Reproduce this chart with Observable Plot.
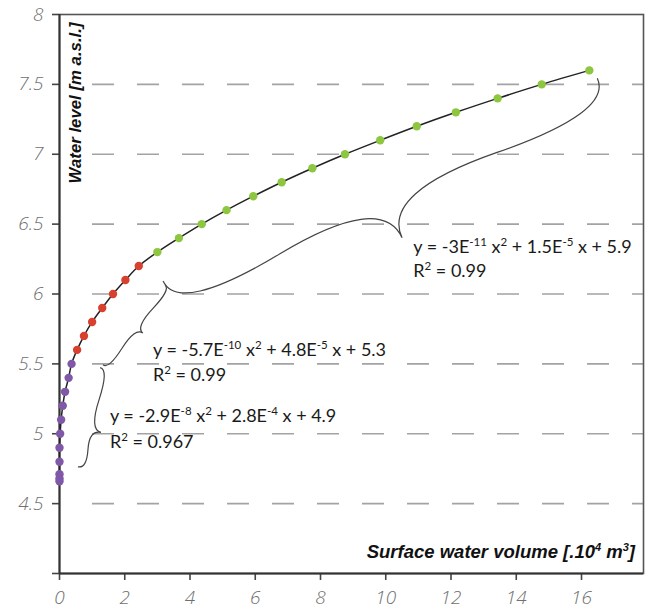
<!DOCTYPE html>
<html><head><meta charset="utf-8">
<script src="https://cdn.jsdelivr.net/npm/d3@7"></script>
<script src="https://cdn.jsdelivr.net/npm/@observablehq/plot@0.6"></script>
<style>body{margin:0;background:#fff} svg{display:block}</style>
</head><body><div id="chart"></div>
<script>
// ---- data ----
const seriesNames = ["lower", "middle", "upper"];
const purpleX = [0, 0, 0, 0, 0, 0.02, 0.05, 0.1, 0.17, 0.28, 0.37];
const purpleY = [4.66, 4.68, 4.71, 4.8, 4.9, 5.0, 5.1, 5.2, 5.3, 5.4, 5.5];
const redX = [0.54, 0.75, 1.0, 1.31, 1.64, 2.02, 2.43];
const redY = [5.6, 5.7, 5.8, 5.9, 6.0, 6.1, 6.2];
const greenX = [3.0, 3.66, 4.36, 5.12, 5.94, 6.81, 7.75, 8.75, 9.83, 10.95, 12.15, 13.43, 14.78, 16.24];
const greenY = [6.3, 6.4, 6.5, 6.6, 6.7, 6.8, 6.9, 7.0, 7.1, 7.2, 7.3, 7.4, 7.5, 7.6];
const xTicks = [0, 2, 4, 6, 8, 10, 12, 14, 16];
const yTicks = [4, 4.5, 5, 5.5, 6, 6.5, 7, 7.5, 8];
const gridY = [4.5, 5, 5.5, 6, 6.5, 7, 7.5];
const eqLines = ["y = -3E^{-11} x^{2} + 1.5E^{-5} x + 5.9", "y = -5.7E^{-10} x^{2} + 4.8E^{-5} x + 5.3", "y = -2.9E^{-8} x^{2} + 2.8E^{-4} x + 4.9"];
const r2Lines = ["R^{2} = 0.99", "R^{2} = 0.99", "R^{2} = 0.967"];
const eqX = [10.86, 2.88, 1.56];
const eqY = [6.29, 5.55, 5.08];
const braceX1 = [3.19, 1.35, 0.58];
const braceY1 = [6.09, 5.49, 4.76];
const braceX2 = [16.5, 3.25, 1.26];
const braceY2 = [7.54, 6.06, 5.47];
const xTitle = "Surface water volume [.10^{4} m^{3}]";
const yTitle = "Water level [m a.s.l.]";

// ---- build table ----
const points = [
  ...purpleX.map((x, i) => ({x, y: purpleY[i], series: seriesNames[0]})),
  ...redX.map((x, i) => ({x, y: redY[i], series: seriesNames[1]})),
  ...greenX.map((x, i) => ({x, y: greenY[i], series: seriesNames[2]}))
];

const tickFont = {fontSize: 19, fontStyle: "italic", fontWeight: 300, fontFamily: "'Open Sans', sans-serif"};

const plot = Plot.plot({
  width: 646, height: 609,
  marginTop: 14, marginRight: 3, marginBottom: 36, marginLeft: 59,
  x: {domain: [0, 17.9], label: null},
  y: {domain: [4, 8], label: null},
  color: {domain: seriesNames, range: ["#7f58a8", "#d8412f", "#8dc63f"]},
  style: {background: "#fff", fontFamily: "'Open Sans', sans-serif", overflow: "visible"},
  marks: [
    Plot.ruleY(gridY, {stroke: "#a3a3a3", strokeWidth: 1.6, strokeDasharray: "22,23", insetLeft: 33}),
    Plot.frame({stroke: "#555", strokeWidth: 1.6}),
    Plot.axisX({ticks: xTicks, tickSize: 7, tickPadding: 10, stroke: "#444", strokeWidth: 1.6, fill: "#707070", label: null, tickFormat: d => String(d), ...tickFont}),
    Plot.axisY({ticks: yTicks, tickSize: 7, tickPadding: 9, stroke: "#444", strokeWidth: 1.6, fill: "#707070", label: null, tickFormat: d => d === 4 ? "" : String(d), ...tickFont}),
    Plot.ruleX([0], {stroke: "#333", strokeWidth: 2}),
    Plot.ruleY([4], {stroke: "#333", strokeWidth: 2}),
    Plot.line(points, {x: "x", y: "y", stroke: "#222", strokeWidth: 1.5, curve: "catmull-rom"}),
    Plot.dot(points, {x: "x", y: "y", fill: "series", r: 4.2}),
    Plot.text([yTitle], {frameAnchor: "top-left", rotate: -90, textAnchor: "end", lineAnchor: "bottom", dx: 21, dy: 8,
      fontSize: 16.8, fontWeight: "bold", fontStyle: "italic", fontFamily: "'Liberation Sans', Arial, sans-serif", fill: "#111"})
  ]
});
document.getElementById("chart").appendChild(plot);

const svg = d3.select(plot);
svg.selectAll('g[aria-label="x-axis tick label"], g[aria-label="y-axis tick label"]')
  .attr("font-size", tickFont.fontSize).attr("font-style", "italic").attr("font-weight", 300);

// ---- annotations through the plot's scales ----
const X = plot.scale("x"), Y = plot.scale("y");
const sx = v => X.apply(v), sy = v => Y.apply(v);
const g = svg.append("g").attr("text-anchor", "start");

function richText(sel, str, x, y, size, supSize, rise, attrs) {
  const t = sel.append("text").attr("x", x).attr("y", y).attr("font-size", size).attr("text-anchor", "start");
  for (const [k, v] of Object.entries(attrs)) t.attr(k, v);
  let shifted = false;
  str.split(/(\^\{[^}]*\})/).forEach(part => {
    if (!part) return;
    if (part.startsWith("^{")) {
      t.append("tspan").attr("dy", -rise).attr("font-size", supSize).text(part.slice(2, -1));
      shifted = true;
    } else {
      const ts = t.append("tspan").text(part);
      if (shifted) { ts.attr("dy", rise); shifted = false; }
    }
  });
  return t;
}

function bracePath(ax, ay, bx, by, w, t, q) {
  const dx = bx - ax, dy = by - ay, L = Math.hypot(dx, dy);
  const ux = dx / L, uy = dy / L, nx = -uy, ny = ux;
  const P = (s, o) => [ax + ux * s + nx * o, ay + uy * s + ny * o].join(" ");
  const tip = P(L * t, w);
  return `M${P(0, 0)} Q${P(0, q * w)} ${P(L * t / 2, (1 - q) * w)} T${tip} ` +
         `M${P(L, 0)} Q${P(L, q * w)} ${P(L * t + L * (1 - t) / 2, (1 - q) * w)} T${tip}`;
}

const braceDepth = [62, 12, 15], braceTip = [0.49, 0.49, 0.38];
braceX1.forEach((_, i) => {
  g.append("path")
    .attr("d", bracePath(sx(braceX1[i]), sy(braceY1[i]), sx(braceX2[i]), sy(braceY2[i]), braceDepth[i], braceTip[i], 0.6))
    .attr("fill", "none").attr("stroke", "#444").attr("stroke-width", 1.2);
});

const eqAttrs = {"font-family": "Lato, 'Open Sans', sans-serif", fill: "#1a1a1a"};
eqLines.forEach((s, i) => {
  richText(g, s, sx(eqX[i]), sy(eqY[i]), 18, 11.5, 7, eqAttrs);
  richText(g, r2Lines[i], sx(eqX[i]), sy(eqY[i]) + (i === 2 ? 26 : 24.5), 18, 11.5, 7, eqAttrs);
});

const [xr0, xr1] = X.range, [yr0] = Y.range;
const xt = richText(g, xTitle, xr1 - 8, yr0 - 15, 18.5, 11, 7,
  {"font-family": "'Liberation Sans', Arial, sans-serif", "font-weight": "bold", "font-style": "italic", fill: "#111"});
xt.attr("text-anchor", "end");
</script>
</body></html>
